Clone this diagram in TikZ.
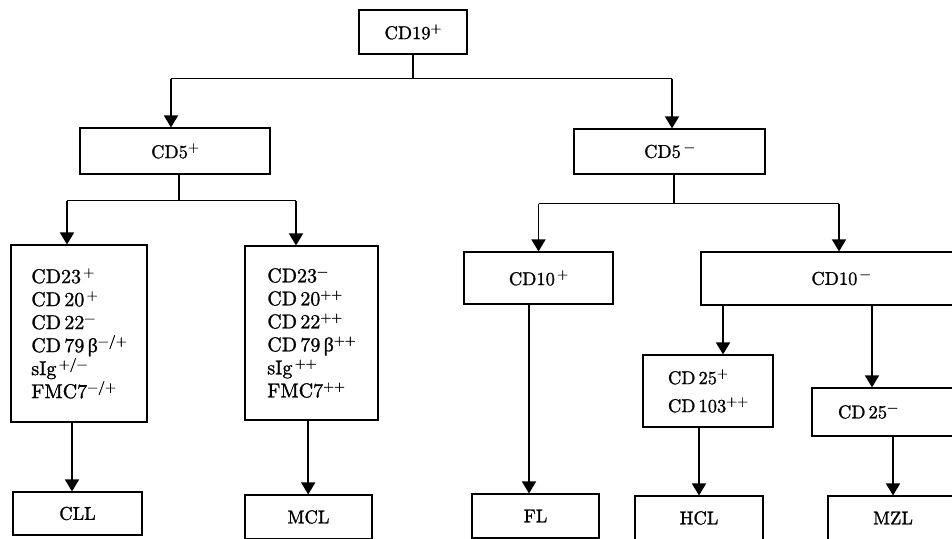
\documentclass[tikz,border=0pt]{standalone}
\usepackage{fontspec}
\newfontfamily\diafont{lmroman10-regular}[Extension=.otf, FakeBold=1.2]
\newfontfamily\grkfont{Liberation Serif}[FakeBold=0.8]
\usetikzlibrary{arrows.meta}
\newcommand{\sps}[1]{\raisebox{6.5pt}{\fontsize{14}{14}\selectfont #1}}
\newcommand{\betaup}{{\grkfont β}}
\begin{document}
\begin{tikzpicture}[x=1pt,y=-1pt,
  box/.style={draw, line width=1.1pt, inner sep=0pt, font=\diafont\fontsize{18.5}{23}\selectfont},
  mark/.style={},
  mbox/.style={box, align=left, font=\diafont\fontsize{20}{23}\selectfont},
  ln/.style={line width=1.1pt},
  arr/.style={line width=1.5pt, -{Triangle[width=14pt,length=12pt]}}]
\useasboundingbox (0,0) rectangle (952,538);
\clip (0,0) rectangle (952,538);
% nodes
\node[box, minimum width=108pt, minimum height=44pt] (cd19) at (413,32) {CD19\sps{+}};
\node[box, minimum width=190pt, minimum height=46pt] (cd5p) at (175,151) {CD5\sps{+}};
\node[box, minimum width=191pt, minimum height=45pt] (cd5m) at (669.5,151.5) {CD5\,\sps{−}};
\node[mbox, minimum width=136pt, minimum height=177pt] (m1) at (79,333.5)
  {CD23\sps{\,+}\\CD\,20\sps{\,+}\\CD\,22\sps{−}\\CD\,79\,\betaup\sps{−/+}\\sIg\sps{\,+/−}\\FMC7\sps{−/+}};
\node[mbox, minimum width=133pt, minimum height=174pt] (m2) at (311.5,333)
  {CD23\sps{−}\\CD\,20\sps{++}\\CD\,22\sps{++}\\CD\,79\,\betaup\sps{++}\\sIg\sps{\,++}\\FMC7\sps{++}};
\node[box, minimum width=149pt, minimum height=52pt] (cd10p) at (538.5,278) {CD10\sps{\,+}};
\node[box, minimum width=280pt, minimum height=53pt] (cd10m) at (841,278.5) {CD10\sps{\,−}};
\node[box, minimum width=130pt, minimum height=72pt, align=left] (cd25p) at (708,391)
  {CD\,25\sps{+}\\[5pt]CD\,103\sps{++}};
\node[box, minimum height=48pt, text width=96pt, inner xsep=26pt, align=left] (cd25m) at (886,412)
  {CD\,25\sps{−}};
\node[box, minimum width=129pt, minimum height=43pt] (cll) at (77.5,513.5) {CLL};
\node[box, minimum width=127pt, minimum height=44pt] (mcl) at (308.5,517) {MCL};
\node[box, minimum width=127pt, minimum height=44pt] (fl) at (535.5,516) {FL};
\node[box, minimum width=128pt, minimum height=44pt] (hcl) at (699,518) {HCL};
\node[box, minimum width=130pt, minimum height=44pt] (mzl) at (893,518) {MZL};
% connectors
\draw[ln] (cd19.south) -- ++(0,24) coordinate (j1);
\draw[ln] ([xshift=-4pt]cd5p.north |- j1) -- ([xshift=2.5pt]cd5m.north |- j1);
\draw[arr] ([xshift=-4pt]cd5p.north |- j1) -- ([xshift=-4pt]cd5p.north);
\draw[arr] ([xshift=2.5pt]cd5m.north |- j1) -- ([xshift=2.5pt]cd5m.north);
\draw[ln] ([xshift=4pt]cd5p.south) -- ++(0,26) coordinate (j2);
\draw[ln] ([xshift=-12pt]m1.north |- j2) -- ([xshift=-15.5pt]m2.north |- j2);
\draw[arr] ([xshift=-12pt]m1.north |- j2) -- ([xshift=-12pt]m1.north);
\draw[arr] ([xshift=-15.5pt]m2.north |- j2) -- ([xshift=-15.5pt]m2.north);
\draw[ln] ([xshift=4.5pt]cd5m.south) -- ++(0,29) coordinate (j3);
\draw[ln] (cd10p.north |- j3) -- ([xshift=-2pt]cd10m.north |- j3);
\draw[arr] (cd10p.north |- j3) -- (cd10p.north);
\draw[arr] ([xshift=-2pt]cd10m.north |- j3) -- ([xshift=-2pt]cd10m.north);
\path ([xshift=-5.5pt]cll.north) coordinate (c1);
\draw[arr] (c1 |- m1.south) -- (c1);
\path ([xshift=-0.3pt]mcl.north) coordinate (c2);
\draw[arr] (c2 |- m2.south) -- (c2);
\path ([xshift=-6.5pt]fl.north) coordinate (c3);
\draw[arr] (c3 |- cd10p.south) -- (c3);
\path ([xshift=15pt]cd25p.north) coordinate (c4);
\draw[arr] (c4 |- cd10m.south) -- (c4);
\path ([xshift=-14pt]cd25m.north) coordinate (c5);
\draw[arr] (c5 |- cd10m.south) -- (c5);
\draw[arr] (hcl.north |- cd25p.south) -- (hcl.north);
\draw[arr] (mzl.north |- cd25m.south) -- (mzl.north);
\end{tikzpicture}
\end{document}
